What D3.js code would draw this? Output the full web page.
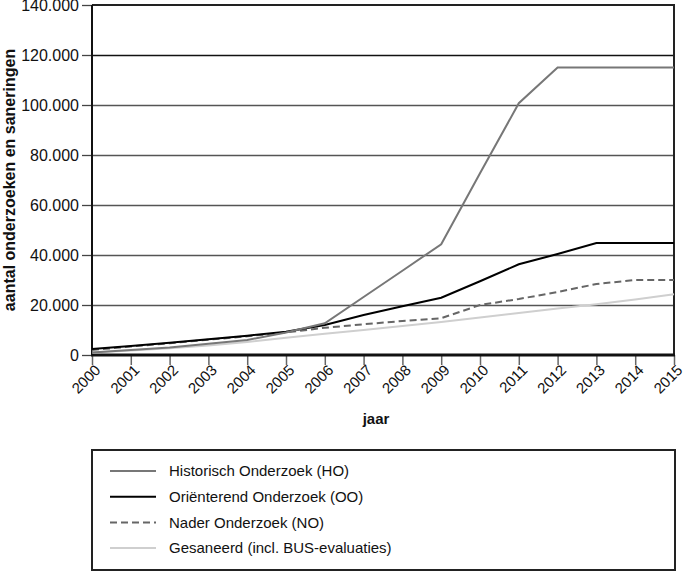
<!DOCTYPE html>
<html><head><meta charset="utf-8">
<script src="https://cdn.jsdelivr.net/npm/d3@7"></script>
<style>body{margin:0;background:#fff}svg{display:block;font-family:"Liberation Sans",Arial,sans-serif}</style>
</head><body><svg id="c" width="683" height="573"></svg>
<script>
const years = [2000,2001,2002,2003,2004,2005,2006,2007,2008,2009,2010,2011,2012,2013,2014,2015];
const yTicks = [0,20000,40000,60000,80000,100000,120000,140000];
const seriesHO = [1000,2000,3000,4500,6000,9000,12700,23200,33700,44300,72700,100700,115000,115000,115000,115000];
const seriesOO = [2400,3600,4900,6300,7700,9300,12000,16000,19500,22900,29500,36300,40400,44800,44800,44800];
const seriesNO = [2000,3400,4700,6100,7500,9000,10900,12300,13600,14700,20000,22400,25200,28400,30000,30000];
const seriesGS = [1000,1800,2700,3800,5200,6900,8500,10000,11600,13200,15000,16800,18600,20300,22200,24300];
const legendLabels = ["Historisch Onderzoek (HO)","Oriënterend Onderzoek (OO)","Nader Onderzoek (NO)","Gesaneerd (incl. BUS-evaluaties)"];

const svg = d3.select("#c");
const L=92, R=674, T=5, B=355;
const x = d3.scaleLinear().domain([2000,2015]).range([L,R]);
const y = d3.scaleLinear().domain([0,140000]).range([B,T]);
const fmt = v => d3.format(",")(v).replace(/,/g,".");

// gridlines
svg.append("g").selectAll("line").data(yTicks.filter(v=>v>0&&v<140000)).join("line")
  .attr("x1",L).attr("x2",R).attr("y1",d=>Math.round(y(d))+0.5).attr("y2",d=>Math.round(y(d))+0.5)
  .attr("stroke",d=>d===120000?"#111":"#555").attr("stroke-width",1.3);
// top/right frame
svg.append("line").attr("x1",L).attr("x2",R+1).attr("y1",T).attr("y2",T).attr("stroke","#222").attr("stroke-width",2);
svg.append("line").attr("x1",R).attr("x2",R).attr("y1",T).attr("y2",B).attr("stroke","#222").attr("stroke-width",2);

// y axis
const ya = svg.append("g").attr("transform",`translate(${L},0)`)
  .call(d3.axisLeft(y).tickValues(yTicks).tickFormat(fmt).tickSize(10).tickPadding(3));
ya.select(".domain").remove();
ya.selectAll(".tick line").attr("stroke","#444").attr("stroke-width",1.3);
ya.selectAll("text").attr("font-size",16).attr("fill","#111").attr("dy","0.35em");
// x axis
const xa = svg.append("g").attr("transform",`translate(0,${B})`)
  .call(d3.axisBottom(x).tickValues(years).tickFormat(d3.format("d")).tickSize(10));
xa.select(".domain").remove();
xa.selectAll(".tick line").attr("stroke","#666").attr("stroke-width",1.5);
xa.selectAll("text").attr("font-size",15).attr("fill","#111")
  .attr("text-anchor","end").attr("dy","0").attr("y",0)
  .attr("transform","translate(9,16) rotate(-45)");
// axis lines
svg.append("line").attr("x1",L).attr("x2",L).attr("y1",T).attr("y2",B+1).attr("stroke","#111").attr("stroke-width",2);
svg.append("line").attr("x1",L-1).attr("x2",R+1).attr("y1",B).attr("y2",B).attr("stroke","#111").attr("stroke-width",3);

// axis titles
svg.append("text").attr("transform","translate(15,180) rotate(-90)").attr("text-anchor","middle")
  .attr("font-size",16).attr("font-weight","bold").attr("fill","#111").text("aantal onderzoeken en saneringen");
svg.append("text").attr("x",376).attr("y",424).attr("text-anchor","middle")
  .attr("font-size",15).attr("font-weight","bold").attr("fill","#111").text("jaar");

// series
const series = [
  {v:seriesGS, c:"#cfcfcf", d:null, w:2},
  {v:seriesNO, c:"#666", d:"7,4", w:2},
  {v:seriesOO, c:"#000", d:null, w:2},
  {v:seriesHO, c:"#777", d:null, w:2}
];
const line = d3.line().x((d,i)=>x(years[i])).y(d=>y(d));
svg.append("g").selectAll("path").data(series).join("path")
  .attr("d",s=>line(s.v)).attr("fill","none").attr("stroke",s=>s.c)
  .attr("stroke-width",s=>s.w).attr("stroke-dasharray",s=>s.d);

// legend
svg.append("rect").attr("x",92).attr("y",450).attr("width",583).attr("height",120)
  .attr("fill","none").attr("stroke","#222").attr("stroke-width",2);
const leg = [
  {c:"#777", d:null},{c:"#000", d:null},{c:"#666", d:"7,4"},{c:"#cfcfcf", d:null}
];
const lg = svg.append("g").selectAll("g").data(leg).join("g")
  .attr("transform",(d,i)=>`translate(0,${471+i*25.7})`);
lg.append("line").attr("x1",110).attr("x2",156).attr("y1",0).attr("y2",0)
  .attr("stroke",d=>d.c).attr("stroke-width",2).attr("stroke-dasharray",d=>d.d);
lg.append("text").attr("x",169).attr("y",0).attr("dy","0.35em").attr("font-size",15).attr("fill","#111")
  .text((d,i)=>legendLabels[i]);
</script></body></html>
